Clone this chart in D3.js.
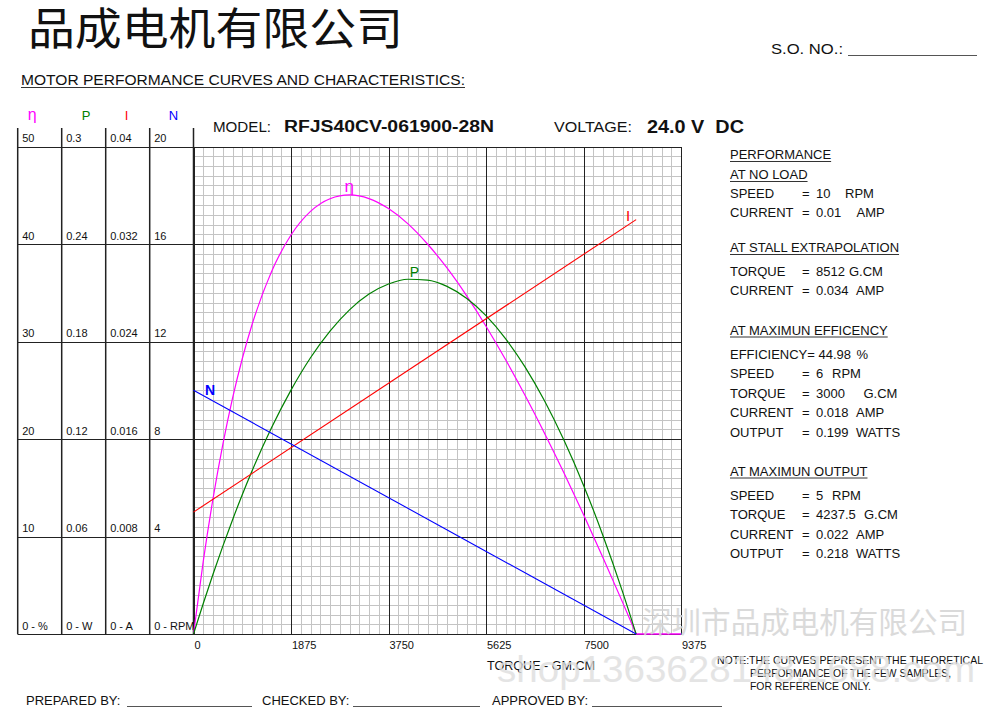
<!DOCTYPE html>
<html><head><meta charset="utf-8">
<script src="https://cdn.jsdelivr.net/npm/d3@7"></script>
<style>
html,body{margin:0;padding:0;background:#fff;}
svg{display:block;}
text{font-family:"Liberation Sans",Arial,sans-serif;fill:#111;}
</style></head><body>
<svg id="c" width="1000" height="708"></svg>
<script>
// ---------------- data ----------------
const torqueTicks  = [0, 1875, 3750, 5625, 7500, 9375];
const etaTicks     = [0, 10, 20, 30, 40, 50];
const powerTicks   = [0, 0.06, 0.12, 0.18, 0.24, 0.3];
const currentTicks = [0, 0.008, 0.016, 0.024, 0.032, 0.04];
const speedTicks   = [0, 4, 8, 12, 16, 20];
const zeroLabels   = ["0 - %", "0 - W", "0 - A", "0 - RPM"];
const seriesNames  = ["η", "P", "I", "N"];

// torque samples (g.cm)
const torque     = [0,187.5,375,562.5,750,937.5,1125,1500,1875,2250,2625,3000,3375,3750,4125,4500,4875,5250,5625,6000,6375,6750,7125,7500,7875,8250,8512];
const efficiency = [0,7.45,13.87,19.40,24.16,28.23,31.72,37.16,40.92,43.34,44.64,45.03,44.66,43.63,42.06,40.00,37.54,34.71,31.57,28.15,24.48,20.59,16.51,12.25,7.83,3.27,0];
const power      = [0,0.0188,0.0368,0.0539,0.0702,0.0857,0.1003,0.1269,0.1501,0.1700,0.1864,0.1995,0.2092,0.2154,0.2183,0.2178,0.2139,0.2066,0.1959,0.1818,0.1644,0.1435,0.1192,0.0916,0.0605,0.0261,0];
const etaTailTorque = [8512, 9375];
const etaTail       = [0, 0];
const lineTorque = [0, 8512];
const current    = [0.010, 0.034];
const speed      = [10, 0];

const infoLines = [
  {t:"PERFORMANCE", u:true},
  {t:"AT NO LOAD", u:true},
  {l:"SPEED", v:"10", unit:"RPM"},
  {l:"CURRENT", v:"0.01", unit:"AMP"},
  {t:"AT STALL EXTRAPOLATION", u:true},
  {l:"TORQUE", v:"8512", unit:"G.CM"},
  {l:"CURRENT", v:"0.034", unit:"AMP"},
  {t:"AT MAXIMUN EFFICENCY", u:true},
  {l:"EFFICIENCY=", v:"44.98", unit:"%", noEq:true},
  {l:"SPEED", v:"6", unit:"RPM"},
  {l:"TORQUE", v:"3000", unit:"G.CM"},
  {l:"CURRENT", v:"0.018", unit:"AMP"},
  {l:"OUTPUT", v:"0.199", unit:"WATTS"},
  {t:"AT MAXIMUN OUTPUT", u:true},
  {l:"SPEED", v:"5", unit:"RPM"},
  {l:"TORQUE", v:"4237.5", unit:"G.CM"},
  {l:"CURRENT", v:"0.022", unit:"AMP"},
  {l:"OUTPUT", v:"0.218", unit:"WATTS"}
];

// ---------------- layout / style ----------------
const colors = {eta:"#ff00ff", p:"#008000", i:"#ff0000", n:"#0000ff"};
const L = 193.5, R = 681, T = 146.5, B = 634;
const colX = [17.7, 61.7, 105.7, 149.7];
const infoY = [159,179,198,217,252,276,295,334.5,358.5,378,397.5,417,436.5,475.5,500,519,538.5,557.5];
const unitX = [0,0,845,856.5,0,849,856,0,856.5,832,863.5,856,856,0,832,864,856,856];

const svg = d3.select("#c");
svg.append("rect").attr("width",1000).attr("height",708).attr("fill","#fff");

const x = d3.scaleLinear().domain([0,9375]).range([L,R]);
const yEta = d3.scaleLinear().domain([0,50]).range([B,T]);
const yP = d3.scaleLinear().domain([0,0.3]).range([B,T]);
const yI = d3.scaleLinear().domain([0,0.04]).range([B,T]);
const yN = d3.scaleLinear().domain([0,20]).range([B,T]);
const colScales = [yEta, yP, yI, yN];
const colTicks = [etaTicks, powerTicks, currentTicks, speedTicks];

// ---------- header ----------
svg.append("text").attr("x",28).attr("y",45)
  .style("font-family","'Noto Sans CJK SC'").style("font-size","44px").style("font-weight","400")
  .attr("textLength",375).attr("lengthAdjust","spacingAndGlyphs")
  .text("品成电机有限公司");
svg.append("text").attr("x",771).attr("y",54).style("font-size","15px")
  .attr("textLength",72).attr("lengthAdjust","spacingAndGlyphs").text("S.O. NO.:");
svg.append("line").attr("x1",848).attr("x2",977).attr("y1",55.5).attr("y2",55.5).attr("stroke","#555").attr("stroke-width",1);
svg.append("text").attr("x",21).attr("y",85).style("font-size","14.5px")
  .attr("textLength",444).attr("lengthAdjust","spacingAndGlyphs")
  .text("MOTOR PERFORMANCE CURVES AND CHARACTERISTICS:");
svg.append("line").attr("x1",21).attr("x2",465).attr("y1",87.5).attr("y2",87.5).attr("stroke","#333");

svg.append("text").attr("x",213).attr("y",132).style("font-size","14.5px")
  .attr("textLength",58).attr("lengthAdjust","spacingAndGlyphs").text("MODEL:");
svg.append("text").attr("x",284).attr("y",132).style("font-size","16px").style("font-weight","bold")
  .attr("textLength",210).attr("lengthAdjust","spacingAndGlyphs").text("RFJS40CV-061900-28N");
svg.append("text").attr("x",554).attr("y",132).style("font-size","14.5px")
  .attr("textLength",78).attr("lengthAdjust","spacingAndGlyphs").text("VOLTAGE:");
svg.append("text").attr("x",647).attr("y",133).style("font-size","17.5px").style("font-weight","bold")
  .attr("xml:space","preserve").style("white-space","pre")
  .attr("textLength",97).attr("lengthAdjust","spacingAndGlyphs").text("24.0 V  DC");

// ---------- minor grid ----------
const g = svg.append("g").attr("shape-rendering","crispEdges");
const minorX = d3.range(0, 51).map(k => k * 187.5);
const minorY = d3.range(0, 51).map(k => k);
g.selectAll(".mx").data(minorX).enter().append("line")
  .attr("x1",d=>Math.round(x(d))+0.5).attr("x2",d=>Math.round(x(d))+0.5)
  .attr("y1",T).attr("y2",B).attr("stroke","#c4c4c4").attr("stroke-width",1);
g.selectAll(".my").data(minorY).enter().append("line")
  .attr("y1",d=>Math.round(yEta(d))+0.5).attr("y2",d=>Math.round(yEta(d))+0.5)
  .attr("x1",L).attr("x2",R).attr("stroke","#c4c4c4").attr("stroke-width",1);

// ---------- major grid ----------
g.selectAll(".Mx").data(torqueTicks).enter().append("line")
  .attr("x1",d=>Math.round(x(d))+0.5).attr("x2",d=>Math.round(x(d))+0.5)
  .attr("y1",T).attr("y2",B).attr("stroke","#222").attr("stroke-width",1);
g.selectAll(".My").data(etaTicks).enter().append("line")
  .attr("y1",d=>Math.round(yEta(d))+0.5).attr("y2",d=>Math.round(yEta(d))+0.5)
  .attr("x1",colX[0]).attr("x2",R).attr("stroke","#222").attr("stroke-width",1.3);
g.append("line").attr("x1",R+0.5).attr("x2",R+0.5).attr("y1",T).attr("y2",B+0.5).attr("stroke","#222").attr("stroke-width",1.3);
colX.concat([L]).forEach(cx=>{
  g.append("line").attr("x1",cx).attr("x2",cx).attr("y1",128).attr("y2",B+0.5)
   .attr("stroke","#222").attr("stroke-width",1.5).attr("shape-rendering","auto");
});

// ---------- left axis table labels ----------
seriesNames.forEach((s,i)=>{
  const c = [colors.eta, colors.p, colors.i, colors.n][i];
  svg.append("text").attr("x",colX[i]+[10,20,19,19][i]).attr("y",120)
    .style("font-size", i===0?"16px":"13px").style("fill",c).text(s);
  colTicks[i].filter(v=>v!==0).forEach(v=>{
    svg.append("text").attr("x",colX[i]+4.5).attr("y",colScales[i](v)-4.2)
      .style("font-size","11px").text(String(v));
  });
  svg.append("text").attr("x",colX[i]+4.5).attr("y",B-4)
    .style("font-size","11px").text(zeroLabels[i]);
});

// ---------- x axis labels ----------
torqueTicks.forEach(t=>{
  svg.append("text").attr("x",x(t)+1).attr("y",649).style("font-size","11px").text(String(t));
});
svg.append("text").attr("x",487).attr("y",670).style("font-size","12px")
  .attr("textLength",108).attr("lengthAdjust","spacingAndGlyphs").text("TORQUE - GM.CM");

// ---------- curves ----------
const lineGen = (ys)=>d3.line().x(d=>x(d[0])).y(d=>ys(d[1])).curve(d3.curveMonotoneX);
const etaData = torque.map((t,k)=>[t,efficiency[k]]);
const pData = torque.map((t,k)=>[t,power[k]]);
svg.append("path").attr("d",lineGen(yEta)(etaData)).attr("fill","none").attr("stroke",colors.eta).attr("stroke-width",1.2);
svg.append("path").attr("d",d3.line().x(d=>x(d[0])).y(d=>yEta(d[1]))(etaTailTorque.map((t,k)=>[t,etaTail[k]])))
  .attr("fill","none").attr("stroke",colors.eta).attr("stroke-width",1.6);
svg.append("path").attr("d",lineGen(yP)(pData)).attr("fill","none").attr("stroke",colors.p).attr("stroke-width",1.2);
svg.append("path").attr("d",d3.line().x(d=>x(d[0])).y(d=>yI(d[1]))(lineTorque.map((t,k)=>[t,current[k]])))
  .attr("fill","none").attr("stroke",colors.i).attr("stroke-width",1.1);
svg.append("path").attr("d",d3.line().x(d=>x(d[0])).y(d=>yN(d[1]))(lineTorque.map((t,k)=>[t,speed[k]])))
  .attr("fill","none").attr("stroke",colors.n).attr("stroke-width",1.1);

// curve labels anchored to data
svg.append("text").attr("x",x(3000)-5).attr("y",yEta(45)-3).style("font-size","17px").style("fill",colors.eta).text("η");
svg.append("text").attr("x",x(4237.5)-4).attr("y",yP(0.218)-3).style("font-size","14px").style("fill",colors.p).text("P");
svg.append("text").attr("x",x(8512)-10).attr("y",yI(0.034)+1).style("font-size","15px").style("fill",colors.i).text("I");
svg.append("text").attr("x",x(0)+11.5).attr("y",yN(10)+5).style("font-size","14px").style("font-weight","bold").style("fill",colors.n).text("N");

// ---------- info panel ----------
infoLines.forEach((ln,k)=>{
  const y = infoY[k];
  if (ln.t) {
    const tx = svg.append("text").attr("x",730).attr("y",y).style("font-size","13px").text(ln.t);
    const w = tx.node().getComputedTextLength();
    svg.append("line").attr("x1",730).attr("x2",730+w).attr("y1",y+2.5).attr("y2",y+2.5).attr("stroke","#333").attr("stroke-width",1);
  } else {
    svg.append("text").attr("x",730).attr("y",y).style("font-size","13px").text(ln.l);
    if (!ln.noEq) svg.append("text").attr("x",802).attr("y",y).style("font-size","13px").text("=");
    svg.append("text").attr("x",ln.noEq?818.5:816).attr("y",y).style("font-size","13px").text(ln.v);
    svg.append("text").attr("x",unitX[k]).attr("y",y).style("font-size","13px").text(ln.unit);
  }
});

// ---------- note ----------
svg.append("text").attr("x",717).attr("y",664).style("font-size","11px")
  .attr("textLength",266).attr("lengthAdjust","spacingAndGlyphs").text("NOTE:THE CURVES PEPRESENT THE THEORETICAL");
svg.append("text").attr("x",750).attr("y",677).style("font-size","11px")
  .attr("textLength",201).attr("lengthAdjust","spacingAndGlyphs").text("PERFORMANCE OF THE FEW SAMPLES,");
svg.append("text").attr("x",750).attr("y",690).style("font-size","11px")
  .attr("textLength",121).attr("lengthAdjust","spacingAndGlyphs").text("FOR REFERENCE ONLY.");

// ---------- footer ----------
const foot = [["PREPARED BY:",26,127,252],["CHECKED BY:",262,353,480],["APPROVED BY:",492,592,722]];
foot.forEach(f=>{
  svg.append("text").attr("x",f[1]).attr("y",705).style("font-size","13px").text(f[0]);
  svg.append("line").attr("x1",f[2]).attr("x2",f[3]).attr("y1",706.5).attr("y2",706.5).attr("stroke","#555");
});

// ---------- watermarks ----------
svg.append("text").attr("x",642).attr("y",633)
  .style("font-family","'Noto Sans CJK SC'").style("font-size","29.5px").style("fill","#d4d4d4").style("opacity",0.85)
  .attr("textLength",325).attr("lengthAdjust","spacingAndGlyphs").text("深圳市品成电机有限公司");
svg.append("text").attr("x",497).attr("y",682)
  .style("font-size","36px").style("fill","#dedede").style("opacity",0.8)
  .attr("textLength",478).attr("lengthAdjust","spacingAndGlyphs").text("shop1363628148.1688.com");
</script>
</body></html>
